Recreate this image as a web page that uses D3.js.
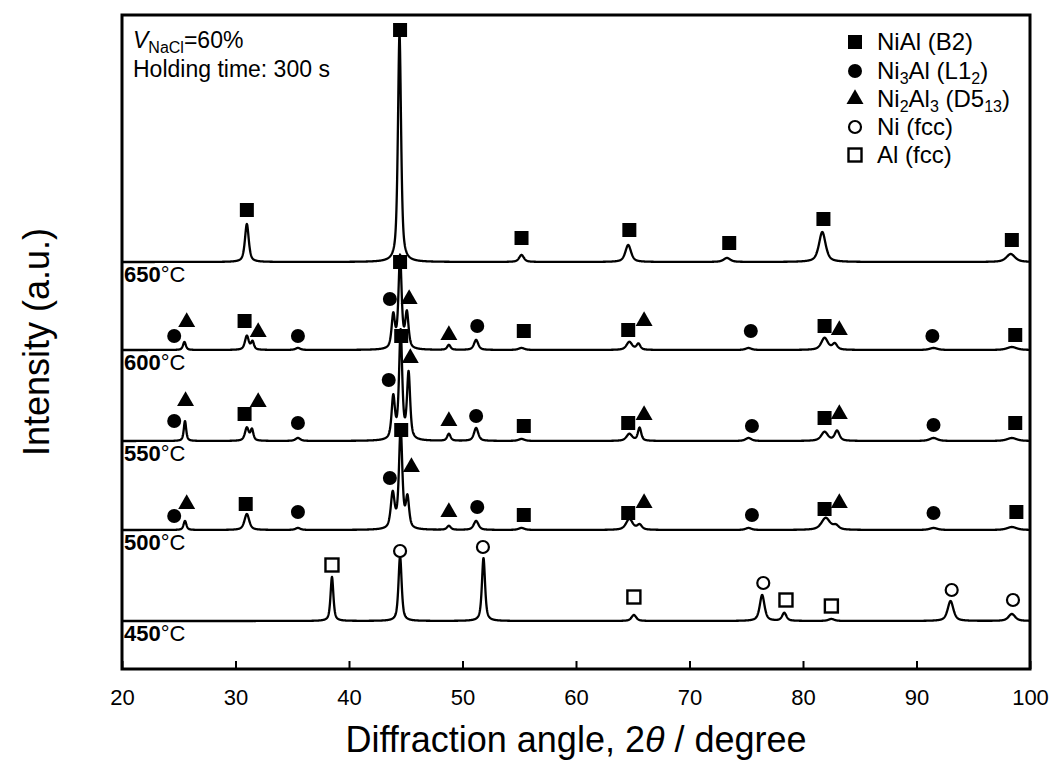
<!DOCTYPE html>
<html>
<head>
<meta charset="utf-8">
<script src="https://cdn.jsdelivr.net/npm/d3@7"></script>
<style>
  body { margin: 0; background: #fff; }
  text { font-family: "Liberation Sans", Arial, sans-serif; fill: #000; }
</style>
</head>
<body>
<svg id="chart" width="1054" height="762"></svg>
<script>
// peaks: [2theta, height (a.u.), fwhm (deg)]
var peaks450 = [[38.5,44,0.3],[44.5,65,0.33],[51.85,63,0.33],[65.1,6,0.5],[76.4,26,0.5],[78.35,8,0.45],[82.5,2,0.6],[93.0,20,0.6],[98.4,7,0.7]];
var peaks500 = [[25.55,9,0.3],[31.0,16,0.5],[35.5,2,0.5],[43.85,35,0.4],[44.55,100,0.35],[45.15,30,0.35],[48.8,4,0.4],[51.2,9,0.5],[55.2,2,0.6],[64.7,11,0.7],[65.6,5,0.5],[75.2,2,0.6],[82.0,12,0.9],[82.9,4,0.6],[91.5,2,0.8],[98.4,3,1.0]];
var peaks550 = [[25.55,20,0.25],[31.0,13,0.4],[31.45,11,0.3],[35.5,3,0.5],[43.9,42,0.35],[44.55,108,0.33],[45.25,66,0.33],[48.8,7,0.35],[51.2,13,0.45],[55.2,2,0.6],[64.7,7,0.6],[65.6,13,0.35],[75.2,3,0.6],[81.9,9,0.7],[83.0,10,0.5],[91.5,3,0.8],[98.4,3,1.0]];
var peaks600 = [[25.5,8,0.3],[31.0,14,0.4],[31.5,8,0.3],[35.5,2,0.5],[43.9,33,0.35],[44.5,92,0.33],[45.1,35,0.35],[48.8,5,0.35],[51.2,10,0.45],[55.2,2,0.6],[64.7,8,0.6],[65.5,6,0.4],[75.2,2,0.6],[81.9,12,0.7],[82.8,6,0.5],[91.5,2,0.8],[98.4,3,1.0]];
var peaks650 = [[31.0,38,0.4],[44.45,228,0.33],[55.2,7,0.5],[64.6,17,0.6],[73.3,4,0.7],[81.7,30,0.7],[98.3,8,0.9]];

// phase marks: [phase, 2theta, level above the pattern baseline]
var marks450 = [['Al',38.5,56],['Ni',44.5,70],['Ni',51.8,74],['Al',65.1,24],['Ni',76.5,38],['Al',78.5,21],['Al',82.5,15],['Ni',93.1,31],['Ni',98.5,21]];
var marks500 = [['Ni3Al',24.6,14],['Ni2Al3',25.7,26],['NiAl',30.9,26],['Ni3Al',35.5,18],['Ni3Al',43.6,52],['NiAl',44.6,100],['Ni2Al3',45.5,63],['Ni2Al3',48.8,18],['Ni3Al',51.3,23],['NiAl',55.4,15],['NiAl',64.6,17],['Ni2Al3',66.0,27],['Ni3Al',75.5,15],['NiAl',81.9,21],['Ni2Al3',83.2,27],['Ni3Al',91.5,17],['NiAl',98.8,18]];
var marks550 = [['Ni3Al',24.6,20],['Ni2Al3',25.6,40],['NiAl',30.8,27],['Ni2Al3',32.0,39],['Ni3Al',35.5,18],['Ni3Al',43.5,61],['NiAl',44.6,105],['Ni2Al3',45.4,83],['Ni2Al3',48.8,20],['Ni3Al',51.2,25],['NiAl',55.4,15],['NiAl',64.6,18],['Ni2Al3',66.0,26],['Ni3Al',75.5,15],['NiAl',81.9,23],['Ni2Al3',83.2,27],['Ni3Al',91.5,16],['NiAl',98.7,18]];
var marks600 = [['Ni3Al',24.6,14],['Ni2Al3',25.7,28],['NiAl',30.8,29],['Ni2Al3',32.0,18],['Ni3Al',35.5,14],['Ni3Al',43.6,51],['NiAl',44.5,88],['Ni2Al3',45.3,51],['Ni2Al3',48.8,15],['Ni3Al',51.3,24],['NiAl',55.4,19],['NiAl',64.6,20],['Ni2Al3',66.0,29],['Ni3Al',75.4,19],['NiAl',81.9,24],['Ni2Al3',83.2,20],['Ni3Al',91.4,14],['NiAl',98.7,15]];
var marks650 = [['NiAl',31.0,52],['NiAl',44.5,232],['NiAl',55.2,24],['NiAl',64.7,32],['NiAl',73.5,19],['NiAl',81.8,43],['NiAl',98.4,22]];

var temps = ['450', '500', '550', '600', '650'];
var offsets = [48, 139, 228, 319, 407];
var xTicks = [20, 30, 40, 50, 60, 70, 80, 90, 100];

;(function (d3) {
  'use strict';

  var patterns = [
    {temp: temps[0], offset: offsets[0], peaks: peaks450, marks: marks450},
    {temp: temps[1], offset: offsets[1], peaks: peaks500, marks: marks500},
    {temp: temps[2], offset: offsets[2], peaks: peaks550, marks: marks550},
    {temp: temps[3], offset: offsets[3], peaks: peaks600, marks: marks600},
    {temp: temps[4], offset: offsets[4], peaks: peaks650, marks: marks650}
  ];

  var svg = d3.select('#chart');
  var pLeft = 122, pRight = 1030, pTop = 15, pBottom = 669;

  var x = d3.scaleLinear().domain([20, 100]).range([pLeft, pRight]);
  var y = d3.scaleLinear().domain([0, pBottom - pTop]).range([pBottom, pTop]);

  // pseudo-Voigt profile of one pattern
  function profile(peaks, t) {
    var s = 0, eta = 0.65;
    peaks.forEach(function (p) {
      var u = (t - p[0]) / (p[2] / 2);
      s += p[1] * (eta / (1 + u * u) + (1 - eta) * Math.exp(-Math.LN2 * u * u));
    });
    return s;
  }

  var grid = d3.range(20, 100.001, 0.02);

  svg.append('clipPath').attr('id', 'clip')
    .append('rect').attr('x', pLeft).attr('y', pTop).attr('width', pRight - pLeft).attr('height', pBottom - pTop);

  var line = d3.line().x(function (d) { return x(d[0]); }).y(function (d) { return y(d[1]); });

  var curves = svg.append('g').attr('clip-path', 'url(#clip)');
  patterns.forEach(function (p) {
    var pts = grid.map(function (t) { return [t, p.offset + profile(p.peaks, t)]; });
    curves.append('path')
      .attr('d', line(pts))
      .attr('fill', 'none')
      .attr('stroke', '#000')
      .attr('stroke-width', 2.3)
      .attr('stroke-linejoin', 'round');
  });

  // temperature labels
  patterns.forEach(function (p) {
    var t = svg.append('text')
      .attr('x', pLeft + 2)
      .attr('y', y(p.offset) + 20)
      .style('font-size', '22px');
    t.append('tspan').style('font-weight', 'bold').text(p.temp);
    t.append('tspan').text('\u00b0C');
  });

  function drawMark(g, phase, cx, cy) {
    if (phase === 'NiAl') {
      g.append('rect').attr('x', cx - 7).attr('y', cy - 7).attr('width', 14).attr('height', 14).attr('fill', '#000');
    } else if (phase === 'Ni3Al') {
      g.append('circle').attr('cx', cx).attr('cy', cy).attr('r', 7).attr('fill', '#000');
    } else if (phase === 'Ni2Al3') {
      g.append('path')
        .attr('d', d3.symbol().type(d3.symbolTriangle).size(125)())
        .attr('transform', 'translate(' + cx + ',' + cy + ')')
        .attr('fill', '#000');
    } else if (phase === 'Ni') {
      g.append('circle').attr('cx', cx).attr('cy', cy).attr('r', 6)
        .attr('fill', '#fff').attr('stroke', '#000').attr('stroke-width', 2.2);
    } else if (phase === 'Al') {
      g.append('rect').attr('x', cx - 6.5).attr('y', cy - 6.5).attr('width', 13).attr('height', 13)
        .attr('fill', '#fff').attr('stroke', '#000').attr('stroke-width', 2.4);
    }
  }

  var markG = svg.append('g');
  patterns.forEach(function (p) {
    p.marks.forEach(function (m) {
      drawMark(markG, m[0], x(m[1]), y(p.offset + m[2]));
    });
  });

  // frame and axis
  svg.append('rect')
    .attr('x', pLeft).attr('y', pTop).attr('width', pRight - pLeft).attr('height', pBottom - pTop)
    .attr('fill', 'none').attr('stroke', '#000').attr('stroke-width', 3);

  var xAxis = d3.axisBottom(x).tickValues(xTicks).tickSizeInner(-8).tickSizeOuter(0).tickPadding(20);
  var ax = svg.append('g').attr('transform', 'translate(0,' + pBottom + ')').call(xAxis);
  ax.attr('font-size', null).attr('font-family', null);
  ax.select('.domain').remove();
  ax.selectAll('line').attr('stroke', '#000').attr('stroke-width', 2);
  ax.selectAll('text').style('font-size', '22px');

  svg.append('text')
    .attr('x', (pLeft + pRight) / 2).attr('y', 752)
    .attr('text-anchor', 'middle')
    .style('font-size', '36px')
    .call(function (t) {
      t.append('tspan').text('Diffraction angle, 2');
      t.append('tspan').style('font-style', 'italic').text('\u03b8');
      t.append('tspan').text(' / degree');
    });

  svg.append('text')
    .attr('transform', 'translate(49,' + ((pTop + pBottom) / 2) + ') rotate(-90)')
    .attr('text-anchor', 'middle')
    .style('font-size', '36px')
    .text('Intensity (a.u.)');

  // condition note
  var note = svg.append('text').attr('x', 133).attr('y', 48).style('font-size', '23px');
  note.append('tspan').style('font-style', 'italic').text('V');
  note.append('tspan').attr('dy', 5).style('font-size', '16px').text('NaCl');
  note.append('tspan').attr('dy', -5).text('=60%');
  svg.append('text').attr('x', 133).attr('y', 77).style('font-size', '23px').text('Holding time: 300 s');

  // legend
  var legendItems = [
    {phase: 'NiAl', parts: [['NiAl (B2)', 0]]},
    {phase: 'Ni3Al', parts: [['Ni', 0], ['3', 1], ['Al (L1', 0], ['2', 1], [')', 0]]},
    {phase: 'Ni2Al3', parts: [['Ni', 0], ['2', 1], ['Al', 0], ['3', 1], [' (D5', 0], ['13', 1], [')', 0]]},
    {phase: 'Ni', parts: [['Ni (fcc)', 0]]},
    {phase: 'Al', parts: [['Al (fcc)', 0]]}
  ];
  var legendRows = [42, 71, 99, 127, 155];
  var lg = svg.append('g');
  legendItems.forEach(function (it, i) {
    var cy = legendRows[i];
    drawMark(lg, it.phase, 855, cy);
    var t = lg.append('text').attr('x', 877).attr('y', cy + 8).style('font-size', '24px');
    var sub = false;
    it.parts.forEach(function (pt) {
      var ts = t.append('tspan').text(pt[0]);
      if (pt[1]) {
        ts.style('font-size', '16px');
        if (!sub) { ts.attr('dy', 5); sub = true; }
      } else if (sub) {
        ts.attr('dy', -5); sub = false;
      }
    });
  });
}(window.d3));
</script>
</body>
</html>
